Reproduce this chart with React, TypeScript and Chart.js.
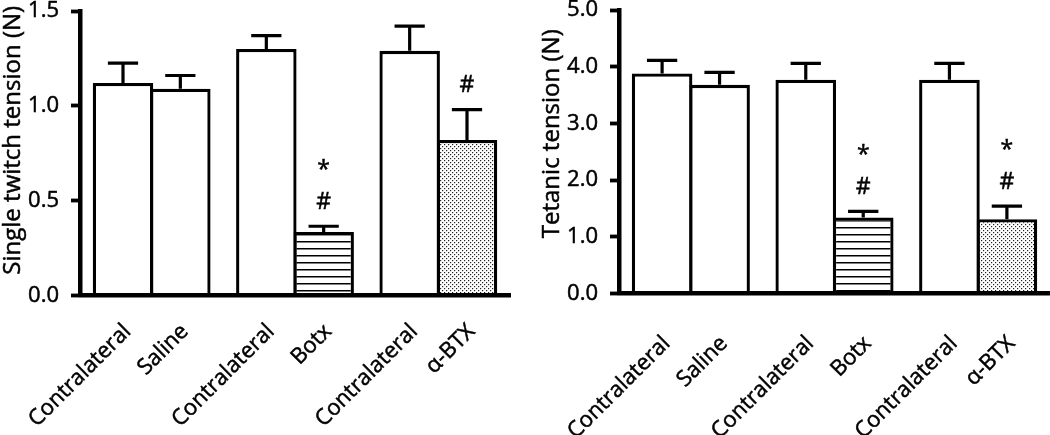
import React, { useEffect, useRef } from 'react';
import { Chart, registerables } from 'chart.js';

Chart.register(...registerables);

// ---------- data ----------
const groups = ['Saline', 'Botx', 'α-BTX'];
const contralateralLabel = 'Contralateral';

const twitchContralateral = [1.12, 1.3, 1.29];
const twitchContralateralSem = [0.105, 0.07, 0.13];
const twitchTreated = [1.09, 0.335, 0.82];
const twitchTreatedSem = [0.07, 0.03, 0.16];
const twitchTreatedMarks = [[], ['*', '#'], ['#']];
const twitchTicks = [0, 0.5, 1.0, 1.5];
const twitchTitle = 'Single twitch tension (N)';

const tetanicContralateral = [3.88, 3.77, 3.77];
const tetanicContralateralSem = [0.23, 0.29, 0.29];
const tetanicTreated = [3.68, 1.34, 1.31];
const tetanicTreatedSem = [0.22, 0.11, 0.23];
const tetanicTreatedMarks = [[], ['*', '#'], ['*', '#']];
const tetanicTicks = [0, 1, 2, 3, 4, 5];
const tetanicTitle = 'Tetanic tension (N)';

// ---------- styles ----------
const FONT = '"Open Sans", "DejaVu Sans", sans-serif';
const TEXT_STROKE = 0.5;

function stripePattern(ctx: CanvasRenderingContext2D) {
  const c = document.createElement('canvas');
  c.width = 8;
  c.height = 7;
  const g = c.getContext('2d')!;
  g.fillStyle = '#fff';
  g.fillRect(0, 0, 8, 7);
  g.fillStyle = '#000';
  g.fillRect(0, 3, 8, 1.5);
  return ctx.createPattern(c, 'repeat')!;
}

function dotPattern(ctx: CanvasRenderingContext2D) {
  const c = document.createElement('canvas');
  c.width = 4;
  c.height = 4;
  const g = c.getContext('2d')!;
  g.fillStyle = '#fff';
  g.fillRect(0, 0, 4, 4);
  g.fillStyle = '#222';
  g.fillRect(0, 0, 1.2, 1.2);
  g.fillRect(2, 2, 1.2, 1.2);
  return ctx.createPattern(c, 'repeat')!;
}

type Spec = {
  contra: number[];
  contraSem: number[];
  treated: number[];
  treatedSem: number[];
  marks: string[][];
  ticks: number[];
  title: string;
  areaLeft: number;
  padRight: number;
  padTop: number;
  areaBottom: number;
  labelDy: number;
  titleShift: number;
};

function drawText(ctx: CanvasRenderingContext2D, s: string, x: number, y: number) {
  ctx.fillText(s, x, y);
  ctx.lineWidth = TEXT_STROKE;
  ctx.strokeStyle = '#000';
  ctx.strokeText(s, x, y);
}

const overlayPlugin = {
  id: 'overlay',
  afterDatasetsDraw(chart: any) {
    const ctx: CanvasRenderingContext2D = chart.ctx;
    const y = chart.scales.y;
    chart.data.datasets.forEach((ds: any, di: number) => {
      const meta = chart.getDatasetMeta(di);
      meta.data.forEach((bar: any, i: number) => {
        const v = ds.data[i];
        const e = ds.sem[i];
        const top = y.getPixelForValue(v);
        const et = y.getPixelForValue(v + e);
        const cw = bar.width * 0.5;
        ctx.save();
        ctx.strokeStyle = '#000';
        ctx.lineWidth = 3.2;
        ctx.beginPath();
        ctx.moveTo(bar.x, top);
        ctx.lineTo(bar.x, et);
        ctx.moveTo(bar.x - cw / 2, et);
        ctx.lineTo(bar.x + cw / 2, et);
        ctx.stroke();
        const marks: string[] = (ds.marks && ds.marks[i]) || [];
        ctx.fillStyle = '#000';
        ctx.font = `23px ${FONT}`;
        ctx.textAlign = 'center';
        ctx.textBaseline = 'middle';
        for (let k = 0; k < marks.length; k++) {
          const m = marks[marks.length - 1 - k];
          const adj = m === '*' ? 5 : 0;
          drawText(ctx, m, bar.x, et - 24 - 37 * k + adj);
        }
        ctx.restore();
      });
    });
  },
  afterDraw(chart: any) {
    const ctx: CanvasRenderingContext2D = chart.ctx;
    const area = chart.chartArea;
    const opts = chart.options.plugins.overlay || {};
    ctx.save();
    ctx.fillStyle = '#000';
    ctx.font = `22px ${FONT}`;
    chart.data.datasets.forEach((ds: any, di: number) => {
      const meta = chart.getDatasetMeta(di);
      meta.data.forEach((bar: any, i: number) => {
        const label = di === 0 ? contralateralLabel : chart.data.labels[i];
        ctx.save();
        ctx.translate(bar.x + 9, area.bottom + opts.labelDy);
        ctx.rotate(-Math.PI / 4);
        ctx.textAlign = 'right';
        ctx.textBaseline = 'alphabetic';
        drawText(ctx, label, 0, 0);
        ctx.restore();
      });
    });
    // y title
    ctx.save();
    ctx.font = `24px ${FONT}`;
    ctx.translate(area.left - 67, (area.top + area.bottom) / 2 + opts.titleShift);
    ctx.rotate(-Math.PI / 2);
    ctx.textAlign = 'center';
    ctx.textBaseline = 'middle';
    drawText(ctx, opts.title, 0, 0);
    ctx.restore();
    ctx.restore();
  },
};

function makeChart(canvas: HTMLCanvasElement, spec: Spec, height: number) {
  const ctx = canvas.getContext('2d')!;
  const treatedFills = ['#fff', stripePattern(ctx), dotPattern(ctx)];
  const step = spec.ticks[1] - spec.ticks[0];
  return new Chart(canvas, {
    type: 'bar',
    data: {
      labels: groups,
      datasets: [
        {
          label: contralateralLabel,
          data: spec.contra,
          sem: spec.contraSem,
          marks: [],
          backgroundColor: '#fff',
          borderColor: '#000',
          borderWidth: 3.3,
        } as any,
        {
          label: 'Treated',
          data: spec.treated,
          sem: spec.treatedSem,
          marks: spec.marks,
          backgroundColor: treatedFills,
          borderColor: '#000',
          borderWidth: 3.3,
        } as any,
      ],
    },
    options: {
      responsive: false,
      animation: false,
      events: [],
      layout: { padding: { left: 0, top: spec.padTop, right: spec.padRight, bottom: 0 } },
      datasets: { bar: { categoryPercentage: 0.8, barPercentage: 1.055 } },
      plugins: {
        legend: { display: false },
        tooltip: { enabled: false },
        overlay: { title: spec.title, labelDy: spec.labelDy, titleShift: spec.titleShift },
      } as any,
      scales: {
        x: {
          type: 'category',
          offset: true,
          grid: { display: false, drawTicks: false },
          ticks: { display: false },
          border: { display: true, color: '#000', width: 4.5, z: 1 },
          afterFit(s: any) {
            s.height = height - spec.areaBottom;
            s.paddingLeft = 0;
            s.paddingRight = 0;
          },
        },
        y: {
          type: 'linear',
          min: spec.ticks[0],
          max: spec.ticks[spec.ticks.length - 1],
          ticks: {
            stepSize: step,
            color: '#000',
            padding: 12,
            textStrokeColor: '#000',
            textStrokeWidth: TEXT_STROKE,
            font: { family: FONT, size: 22 },
            callback: (v: any) => Number(v).toFixed(1),
          },
          grid: {
            display: true,
            drawOnChartArea: false,
            drawTicks: true,
            tickLength: 9,
            tickWidth: 3.8,
            tickColor: '#000',
          },
          border: { display: true, color: '#000', width: 4.5 },
          afterFit(s: any) {
            s.width = spec.areaLeft;
            s.paddingTop = 0;
            s.paddingBottom = 0;
          },
        },
      },
    } as any,
    plugins: [overlayPlugin],
  });
}

function Panel({ spec, left, width, height }: { spec: Spec; left: number; width: number; height: number }) {
  const ref = useRef<HTMLCanvasElement>(null);
  useEffect(() => {
    const chart = makeChart(ref.current!, spec, height);
    return () => chart.destroy();
  }, []);
  return (
    <canvas
      ref={ref}
      width={width}
      height={height}
      style={{ position: 'absolute', left, top: 0, width, height, display: 'block' }}
    />
  );
}

const twitchSpec: Spec = {
  contra: twitchContralateral,
  contraSem: twitchContralateralSem,
  treated: twitchTreated,
  treatedSem: twitchTreatedSem,
  marks: twitchTreatedMarks,
  ticks: twitchTicks,
  title: twitchTitle,
  areaLeft: 80,
  padRight: 15,
  padTop: 11,
  areaBottom: 295.5,
  labelDy: 37,
  titleShift: -13,
};

const tetanicSpec: Spec = {
  contra: tetanicContralateral,
  contraSem: tetanicContralateralSem,
  treated: tetanicTreated,
  treatedSem: tetanicTreatedSem,
  marks: tetanicTreatedMarks,
  ticks: tetanicTicks,
  title: tetanicTitle,
  areaLeft: 94,
  padRight: 0,
  padTop: 10,
  areaBottom: 293.5,
  labelDy: 51,
  titleShift: -18,
};

export default function App() {
  return (
    <div style={{ position: 'absolute', left: 0, top: 0, width: 1050, height: 435, background: '#fff', overflow: 'hidden' }}>
      <Panel spec={twitchSpec} left={0} width={525} height={435} />
      <Panel spec={tetanicSpec} left={525} width={525} height={435} />
    </div>
  );
}
